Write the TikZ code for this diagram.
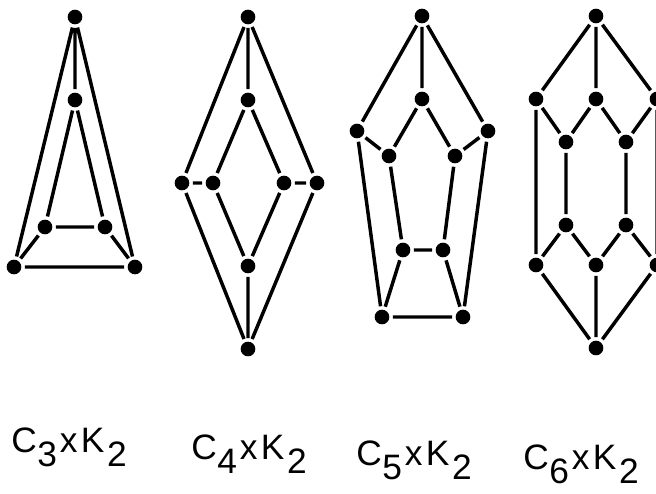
\documentclass[tikz,border=0pt]{standalone}
\usepackage{fontspec}
\setmainfont{Liberation Sans}
\newcommand\prodlabel[1]{C\kern0.5pt\raisebox{-11pt}[0pt][0pt]{#1}\kern2pt x\kern2.5pt K\kern2pt\raisebox{-11pt}[0pt][0pt]{2}}
\begin{document}
\begin{tikzpicture}[x=0.75pt,y=-0.75pt,
  vtx/.style={circle,fill=black,inner sep=0pt,minimum size=11pt,outer sep=2.6pt},
  edge/.style={line width=2.6pt},
  lab/.style={anchor=base west,inner sep=0pt,font=\fontsize{26.5}{30}\selectfont}]
\clip (0,0) rectangle (656,493);
\fill[white] (0,0) rectangle (656,493);
% C3 x K2
\node[vtx] (a1) at (75,17) {};
\node[vtx] (a2) at (75,100) {};
\node[vtx] (a3) at (45,227) {};
\node[vtx] (a4) at (105,227) {};
\node[vtx] (a5) at (14,267) {};
\node[vtx] (a6) at (135,267) {};
\draw[edge] (a1)--(a2) (a1)--(a5) (a1)--(a6) (a2)--(a3) (a2)--(a4) (a3)--(a4) (a3)--(a5) (a4)--(a6) (a5)--(a6);
% C4 x K2
\node[vtx] (b1) at (248,17) {};
\node[vtx] (b2) at (248,100) {};
\node[vtx] (b3) at (182,183) {};
\node[vtx] (b4) at (213,183) {};
\node[vtx] (b5) at (284,183) {};
\node[vtx] (b6) at (317,183) {};
\node[vtx] (b7) at (248,266) {};
\node[vtx] (b8) at (248,349) {};
\draw[edge] (b1)--(b2) (b1)--(b3) (b1)--(b6) (b2)--(b4) (b2)--(b5) (b3)--(b4) (b5)--(b6)
  (b4)--(b7) (b5)--(b7) (b3)--(b8) (b6)--(b8) (b7)--(b8);
% C5 x K2
\node[vtx] (c1) at (422,16) {};
\node[vtx] (c2) at (422,99) {};
\node[vtx] (c3) at (357,131) {};
\node[vtx] (c4) at (488,131) {};
\node[vtx] (c5) at (389,156) {};
\node[vtx] (c6) at (455,156) {};
\node[vtx] (c7) at (403,250) {};
\node[vtx] (c8) at (443,250) {};
\node[vtx] (c9) at (382,317) {};
\node[vtx] (c10) at (463,317) {};
\draw[edge] (c1)--(c3) (c3)--(c9) (c9)--(c10) (c10)--(c4) (c4)--(c1)
  (c2)--(c5) (c5)--(c7) (c7)--(c8) (c8)--(c6) (c6)--(c2)
  (c1)--(c2) (c3)--(c5) (c4)--(c6) (c9)--(c7) (c10)--(c8);
% C6 x K2
\node[vtx] (d1) at (596,16) {};
\node[vtx] (d2) at (536,99) {};
\node[vtx] (d3) at (596,99) {};
\node[vtx] (d4) at (657,99) {};
\node[vtx] (d5) at (566,142) {};
\node[vtx] (d6) at (626,142) {};
\node[vtx] (d7) at (566,225) {};
\node[vtx] (d8) at (626,225) {};
\node[vtx] (d9) at (536,265) {};
\node[vtx] (d10) at (596,265) {};
\node[vtx] (d11) at (657,265) {};
\node[vtx] (d12) at (596,348) {};
\draw[edge] (d1)--(d2) (d2)--(d9) (d9)--(d12) (d12)--(d11) (d11)--(d4) (d4)--(d1)
  (d3)--(d5) (d5)--(d7) (d7)--(d10) (d10)--(d8) (d8)--(d6) (d6)--(d3)
  (d1)--(d3) (d2)--(d5) (d4)--(d6) (d9)--(d7) (d11)--(d8) (d12)--(d10);
% labels
\node[lab] (l3) at (11,452) {\prodlabel{3}};
\node[lab] (l4) at (191,459) {\prodlabel{4}};
\node[lab] (l5) at (356,465) {\prodlabel{5}};
\node[lab] (l6) at (523,469) {\prodlabel{6}};
\end{tikzpicture}
\end{document}
